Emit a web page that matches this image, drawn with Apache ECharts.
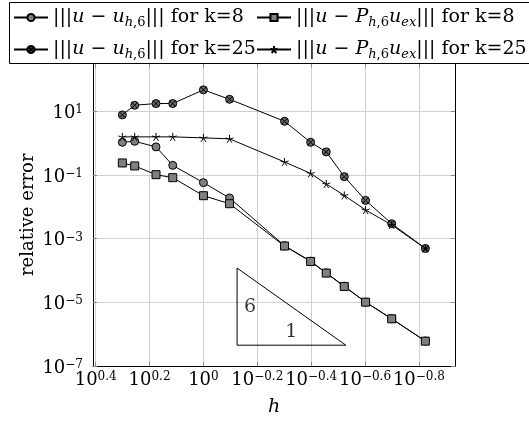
<!DOCTYPE html>
<html>
<head>
<meta charset="utf-8">
<script src="https://cdn.jsdelivr.net/npm/echarts@6/dist/echarts.min.js"></script>
<style>
html, body { margin: 0; padding: 0; background: #fff; }
#main { width: 529px; height: 425px; }
</style>
</head>
<body>
<div id="main"></div>
<script>
// mesh sizes h and relative errors
var hValues = [2, 1.8, 1.5, 1.3, 1, 0.8, 0.5, 0.4, 0.35, 0.3, 0.25, 0.2, 0.15];
var errUh8  = [1.06, 1.14, 0.76, 0.20, 0.0573, 0.0189, 0.0006, 0.000196, 8.4e-5, 3.2e-5, 1.02e-5, 3.05e-6, 6.1e-7];
var errPh8  = [0.238, 0.192, 0.102, 0.0822, 0.0223, 0.0125, 0.000585, 0.000192, 8.28e-5, 3.14e-5, 1.01e-5, 3.03e-6, 6.03e-7];
var errUh25 = [7.7, 15.4, 17.5, 17.5, 47, 23.8, 4.85, 1.06, 0.53, 0.0885, 0.0159, 0.00294, 0.000492];
var errPh25 = [1.57, 1.57, 1.57, 1.57, 1.46, 1.36, 0.256, 0.112, 0.0521, 0.0228, 0.00793, 0.0027, 0.00049];

// tick exponents (10^x)
var xTickExp = [0.4, 0.2, 0, -0.2, -0.4, -0.6, -0.8];
var yTickExp = [-7, -5, -3, -1, 1];

// slope triangle (order 6)
var triH   = [0.75, 0.75, 0.296, 0.75];
var triErr = [1.19e-4, 4.5e-7, 4.5e-7, 1.19e-4];
var slopeText = ['6', '1'];
var slopeH    = [0.671, 0.472];
var slopeErr  = [7.1e-6, 1.2e-6];

var F = 'DejaVu Serif';

function pts(xs, ys) {
    var out = [];
    for (var i = 0; i < xs.length; i++) {
        out.push([Math.log10(xs[i]), Math.log10(ys[i])]);
    }
    return out;
}

function expLabel(v) {
    var r = Math.round(v * 10) / 10;
    var s = r === 0 ? '0' : String(r).replace('-', '\u2212');
    return '{b|10}{e|' + s + '}';
}

var tickRich = {
    b: { fontFamily: F, fontSize: 18, lineHeight: 18, padding: [3, 0, 0, 0], verticalAlign: 'bottom', color: '#000' },
    e: { fontFamily: F, fontSize: 12, lineHeight: 12, verticalAlign: 'top', color: '#000' }
};

var legRich = {
    n:  { fontFamily: F, fontSize: 19, lineHeight: 24, color: '#000' },
    i:  { fontFamily: F, fontSize: 19, lineHeight: 24, fontStyle: 'italic', color: '#000' },
    si: { fontFamily: F, fontSize: 13, lineHeight: 13, fontStyle: 'italic', verticalAlign: 'bottom', color: '#000' },
    sn: { fontFamily: F, fontSize: 13, lineHeight: 13, verticalAlign: 'bottom', color: '#000' }
};

var legendText = {
    uh8:  '{n||||}{i|u}{n| \u2212 }{i|u}{si|h}{sn|,6}{n|||| for k=8}',
    ph8:  '{n||||}{i|u}{n| \u2212 }{i|P}{si|h}{sn|,6}{i|u}{si|ex}{n|||| for k=8}',
    uh25: '{n||||}{i|u}{n| \u2212 }{i|u}{si|h}{sn|,6}{n|||| for k=25}',
    ph25: '{n||||}{i|u}{n| \u2212 }{i|P}{si|h}{sn|,6}{i|u}{si|ex}{n|||| for k=25}'
};

var otimes = 'path://M0,-1A1,1 0 1,1 0,1A1,1 0 1,1 0,-1Z M-0.7071,-0.7071L0.7071,0.7071M0.7071,-0.7071L-0.7071,0.7071';
var star = 'path://M0,0L0,-1M0,0L0.951,-0.309M0,0L0.588,0.809M0,0L-0.588,0.809M0,0L-0.951,-0.309';

function legendAt(name, left, top) {
    return {
        data: [name], left: left, top: top, padding: 0,
        itemWidth: 34, itemHeight: 9, selectedMode: false,
        formatter: function (n) { return legendText[n]; },
        textStyle: { rich: legRich }
    };
}

function axLine() { return { show: true, onZero: false, lineStyle: { color: '#000', width: 1 } }; }
function ticks(vals) { return { show: true, inside: true, length: 4, interval: 0, customValues: vals, lineStyle: { color: '#888' } }; }
function grid() { return { show: true, interval: 0, lineStyle: { color: '#d0d0d0', width: 1, type: 'solid' } }; }
function labels(vals, extra) {
    var o = {
        customValues: vals, interval: 0, hideOverlap: false,
        showMinLabel: true, showMaxLabel: true,
        formatter: expLabel, rich: tickRich
    };
    for (var k in extra) o[k] = extra[k];
    return o;
}

var myChart = echarts.init(document.getElementById('main'));

var option = {
    animation: false,
    backgroundColor: '#fff',
    graphic: [{
        type: 'rect', z: 3,
        shape: { x: 9.5, y: 2.5, width: 530, height: 61 },
        style: { fill: '#fff', stroke: '#000', lineWidth: 1 }
    }],
    legend: [
        legendAt('uh8', 13, 8),
        legendAt('ph8', 256, 8),
        legendAt('uh25', 13, 40),
        legendAt('ph25', 256, 40)
    ],
    grid: { left: 93, top: 63.5, right: 74, bottom: 59, outerBoundsMode: 'none' },
    xAxis: [{
        type: 'value', min: -0.934, max: 0.41, inverse: true, position: 'bottom',
        name: 'h', nameLocation: 'middle', nameGap: 32, nameMoveOverlap: false,
        nameTextStyle: { fontFamily: F, fontSize: 19, fontStyle: 'italic', color: '#000' },
        axisLine: axLine(), axisTick: ticks(xTickExp), splitLine: grid(),
        axisLabel: labels(xTickExp, { margin: 5 })
    }, {
        type: 'value', min: -0.934, max: 0.41, inverse: true, position: 'top',
        axisLine: axLine(), axisTick: ticks(xTickExp), splitLine: { show: false },
        axisLabel: { show: false }
    }],
    yAxis: [{
        type: 'value', min: -7, max: 2.5, position: 'left',
        name: 'relative error', nameLocation: 'middle', nameGap: 56, nameMoveOverlap: false,
        nameTextStyle: { fontFamily: F, fontSize: 18, color: '#000' },
        axisLine: axLine(), axisTick: ticks(yTickExp), splitLine: grid(),
        axisLabel: labels(yTickExp, { margin: 10, padding: [4, 0, 0, 0] })
    }, {
        type: 'value', min: -7, max: 2.5, position: 'right',
        axisLine: axLine(), axisTick: ticks(yTickExp), splitLine: { show: false },
        axisLabel: { show: false }
    }],
    series: [{
        name: 'uh8', type: 'line', data: pts(hValues, errUh8),
        symbol: 'circle', symbolSize: 8,
        itemStyle: { color: '#7f7f7f', borderColor: '#000', borderWidth: 1 },
        lineStyle: { color: '#000', width: 1 }
    }, {
        name: 'ph8', type: 'line', data: pts(hValues, errPh8),
        symbol: 'rect', symbolSize: 8,
        itemStyle: { color: '#7f7f7f', borderColor: '#000', borderWidth: 1 },
        lineStyle: { color: '#000', width: 1 }
    }, {
        name: 'uh25', type: 'line', data: pts(hValues, errUh25),
        symbol: otimes, symbolSize: 8,
        itemStyle: { color: '#6a6a6a', borderColor: '#000', borderWidth: 1 },
        lineStyle: { color: '#000', width: 1 }
    }, {
        name: 'ph25', type: 'line', data: pts(hValues, errPh25),
        symbol: star, symbolSize: 8,
        itemStyle: { color: '#000', borderColor: '#000', borderWidth: 1 },
        lineStyle: { color: '#000', width: 1 }
    }, {
        name: 'slope', type: 'line', data: pts(triH, triErr),
        symbol: 'none', silent: true,
        lineStyle: { color: '#000', width: 1 }
    }, {
        name: 'slopeLabel', type: 'scatter', silent: true,
        data: pts(slopeH, slopeErr),
        symbolSize: 1, itemStyle: { color: 'rgba(0,0,0,0)' },
        label: {
            show: true, position: 'inside',
            formatter: function (p) { return slopeText[p.dataIndex]; },
            fontFamily: F, fontSize: 19, color: '#000'
        }
    }]
};

myChart.setOption(option);
</script>
</body>
</html>
